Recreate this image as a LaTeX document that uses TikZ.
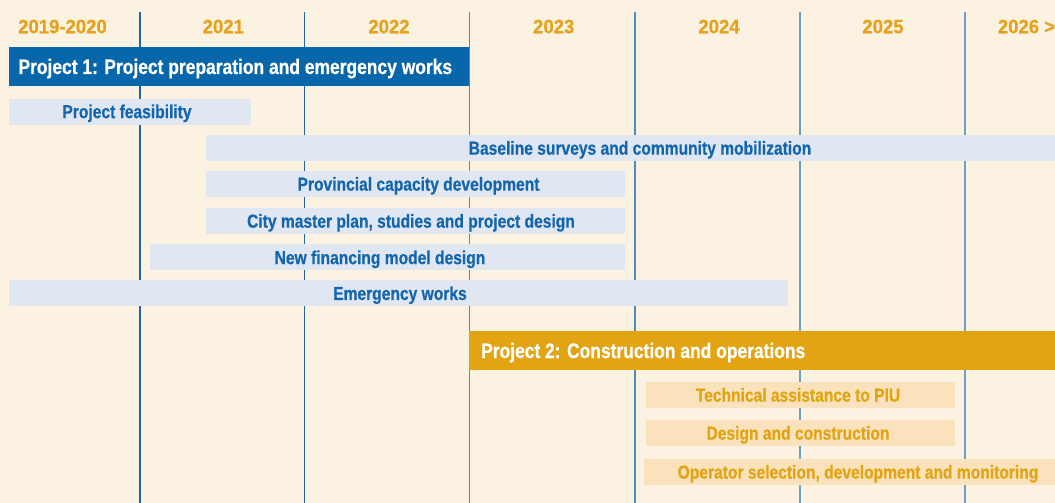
\documentclass[tikz,border=0pt]{standalone}
\usepackage{fontspec}
\setmainfont{Liberation Sans}[FakeStretch=0.83, BoldFeatures={FakeBold=0.6}]
\newfontfamily\yearfont{Liberation Sans}[FakeStretch=0.95, BoldFeatures={FakeBold=0.6}]
\definecolor{bg}{HTML}{FBF2E2}
\definecolor{dblue}{HTML}{0866AA}
\definecolor{lblue}{HTML}{E0E7F3}
\definecolor{tblue}{HTML}{1466AC}
\definecolor{orng}{HTML}{E3A414}
\definecolor{peach}{HTML}{F9E2BC}
\definecolor{yearc}{HTML}{E6A21C}
\definecolor{lineA}{HTML}{1F67A8}
\definecolor{lineB}{HTML}{4C8CC0}
\definecolor{lineC}{HTML}{6A9FC6}
\begin{document}
\begin{tikzpicture}[x=1pt,y=-1pt,
  vline/.style={line width=1.6pt},
  barbox/.style={anchor=north west, inner sep=0pt, draw=none},
  p1bar/.style={barbox, fill=dblue},
  p2bar/.style={barbox, fill=orng},
  lbbar/.style={barbox, fill=lblue},
  pcbar/.style={barbox, fill=peach},
  yeartext/.style={font=\yearfont\bfseries\fontsize{19.5}{20}\selectfont, text=yearc, inner sep=0pt, text height=14pt, text depth=0pt},
  titletext/.style={font=\bfseries\fontsize{21}{22}\selectfont, text=white, inner sep=0pt, text height=15pt, text depth=0pt, anchor=west},
  bluetext/.style={font=\bfseries\fontsize{18.8}{20}\selectfont, text=tblue, inner sep=0pt, text height=13.3pt, text depth=0pt},
  orngtext/.style={font=\bfseries\fontsize{18.8}{20}\selectfont, text=orng, inner sep=0pt, text height=13.3pt, text depth=0pt}
]
\fill[bg] (0,0) rectangle (1055,503);
\useasboundingbox (0,0) rectangle (1055,503);

% column dividers
\draw[vline, lineA] (140,12) -- (140,503);
\draw[vline, lineA] (304.3,12) -- (304.3,503);
\draw[vline, lineB] (469.3,12) -- (469.3,503);
\draw[vline, lineB] (634.7,12) -- (634.7,503);
\draw[vline, lineC] (799.7,12) -- (799.7,503);
\draw[vline, lineC] (965,12) -- (965,503);

% years
\node[yeartext] (y1) at (62.5,26.3) {2019-2020};
\node[yeartext] (y2) at (223.3,26.3) {2021};
\node[yeartext] (y3) at (389,26.3) {2022};
\node[yeartext] (y4) at (553.7,26.3) {2023};
\node[yeartext] (y5) at (719,26.3) {2024};
\node[yeartext] (y6) at (883,26.3) {2025};
\node[yeartext, anchor=west] (y7) at (997.7,26.3) {2026 >};

% Project 1
\node[p1bar, minimum width=460pt, minimum height=38.5pt] (p1) at (9,47.2) {};
\node[titletext] (p1t) at (18.3,66.5) {Project 1: Project preparation and emergency works};

\node[lbbar, minimum width=242pt, minimum height=25.5pt] (b1) at (9,99) {};
\node[bluetext] (t1) at (127,111.5) {Project feasibility};

\node[lbbar, minimum width=849pt, minimum height=26pt] (b2) at (206,135) {};
\node[bluetext] (t2) at (640,148) {Baseline surveys and community mobilization};

\node[lbbar, minimum width=419pt, minimum height=26pt] (b3) at (206,171) {};
\node[bluetext] (t3) at (418.5,184) {Provincial capacity development};

\node[lbbar, minimum width=419pt, minimum height=26pt] (b4) at (206,208) {};
\node[bluetext] (t4) at (411,221) {City master plan, studies and project design};

\node[lbbar, minimum width=475pt, minimum height=26pt] (b5) at (150,244) {};
\node[bluetext] (t5) at (380,257.5) {New financing model design};

\node[lbbar, minimum width=779pt, minimum height=26pt] (b6) at (9,280) {};
\node[bluetext] (t6) at (400,293.3) {Emergency works};

% Project 2
\node[p2bar, minimum width=586pt, minimum height=39pt] (p2) at (469,331) {};
\node[titletext] (p2t) at (481,350.5) {Project 2: Construction and operations};

\node[pcbar, minimum width=309pt, minimum height=26pt] (c1) at (646,382) {};
\node[orngtext] (s1) at (798,395) {Technical assistance to PIU};

\node[pcbar, minimum width=309pt, minimum height=26pt] (c2) at (646,420) {};
\node[orngtext] (s2) at (798,433) {Design and construction};

\node[pcbar, minimum width=411pt, minimum height=26pt] (c3) at (644,459) {};
\node[orngtext] (s3) at (858,472) {Operator selection, development and monitoring};
\end{tikzpicture}
\end{document}
